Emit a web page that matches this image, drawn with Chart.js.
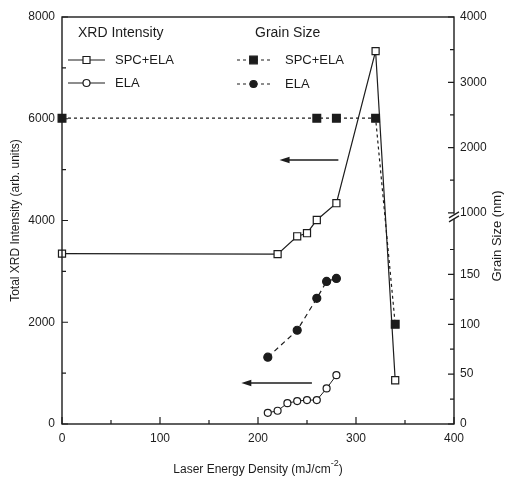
<!DOCTYPE html>
<html>
<head>
<meta charset="utf-8">
<script src="https://cdn.jsdelivr.net/npm/chart.js@4.4.1/dist/chart.umd.min.js"></script>
<style>
  html, body { margin: 0; padding: 0; background: #fff; }
  canvas { display: block; }
</style>
</head>
<body>
<canvas id="chart" width="505" height="480"></canvas>
<script>
// XRD intensity (left axis, arb. units)
const energyXrdSpc = [0, 220, 240, 250, 260, 280, 320, 340];
const xrdSpc = [3350, 3340, 3690, 3750, 4010, 4340, 7330, 860];
const energyXrdEla = [210, 220, 230, 240, 250, 260, 270, 280];
const xrdEla = [220, 260, 410, 450, 470, 470, 700, 960];

// grain size (right axis, nm)
const energyGrainSpc = [0, 260, 280, 320, 340];
const grainSpc = [2450, 2450, 2450, 2450, 100];
const energyGrainEla = [210, 240, 260, 270, 280];
const grainEla = [67, 94, 126, 143, 146];

// tick labels
const xTickValues = [0, 100, 200, 300, 400];
const leftTickValues = [0, 2000, 4000, 6000, 8000];
const rightTickLabels = [0, 50, 100, 150, 1000, 2000, 3000, 4000];
const rightMinorTicks = [25, 75, 125, 175, 1500, 2500, 3500];

const INK = "#1c1c1c";
const FONT = "'Liberation Sans', Arial, sans-serif";

// the right axis is broken: 0-200 nm below, 1000-4000 nm above
function grainToAxis(g) {
  if (g <= 300) return g * 19.6;
  return 4150 + (g - 1000) * (8000 - 4150) / 3000;
}

function toPoints(xs, ys, conv) {
  return xs.map((x, i) => ({ x: x, y: conv ? conv(ys[i]) : ys[i] }));
}

function drawArrow(ctx, xHead, xTail, y) {
  ctx.beginPath();
  ctx.lineWidth = 1.6;
  ctx.moveTo(xHead + 6, y);
  ctx.lineTo(xTail, y);
  ctx.stroke();
  ctx.beginPath();
  ctx.moveTo(xHead, y);
  ctx.lineTo(xHead + 10, y - 3.2);
  ctx.lineTo(xHead + 10, y + 3.2);
  ctx.closePath();
  ctx.fill();
}

function legendRow(ctx, x1, x2, y, dash, shape, filled, label, textX) {
  ctx.save();
  ctx.lineWidth = 1.2;
  ctx.setLineDash(dash);
  ctx.beginPath();
  ctx.moveTo(x1, y);
  ctx.lineTo(x2, y);
  ctx.stroke();
  ctx.setLineDash([]);
  const mx = (x1 + x2) / 2;
  ctx.beginPath();
  if (shape === "rect") {
    const s = filled ? 3.8 : 3.5;
    ctx.rect(mx - s, y - s, 2 * s, 2 * s);
  } else {
    ctx.arc(mx, y, 3.5, 0, Math.PI * 2);
  }
  ctx.fillStyle = filled ? INK : "#fff";
  ctx.fill();
  ctx.stroke();
  ctx.fillStyle = INK;
  ctx.font = "13px " + FONT;
  ctx.textAlign = "left";
  ctx.textBaseline = "middle";
  ctx.fillText(label, textX, y);
  ctx.restore();
}

const decorations = {
  id: "decorations",
  afterDraw(chart) {
    const ctx = chart.ctx;
    const a = chart.chartArea;
    const xs = chart.scales.x;
    const ys = chart.scales.y;
    ctx.save();
    ctx.strokeStyle = INK;
    ctx.fillStyle = INK;

    // frame
    ctx.lineWidth = 1.4;
    ctx.strokeRect(a.left, a.top, a.right - a.left, a.bottom - a.top);

    // inward tick marks
    ctx.lineWidth = 1.2;
    ctx.beginPath();
    for (let v = 0; v <= 400; v += 50) {
      const px = xs.getPixelForValue(v);
      const len = v % 100 ? 4 : 7;
      ctx.moveTo(px, a.bottom);
      ctx.lineTo(px, a.bottom - len);
    }
    for (let v = 0; v <= 8000; v += 1000) {
      const py = ys.getPixelForValue(v);
      const len = v % 2000 ? 4 : 6;
      ctx.moveTo(a.left, py);
      ctx.lineTo(a.left + len, py);
    }
    rightTickLabels.forEach((g) => {
      const py = ys.getPixelForValue(grainToAxis(g));
      ctx.moveTo(a.right, py);
      ctx.lineTo(a.right - 6, py);
    });
    rightMinorTicks.forEach((g) => {
      const py = ys.getPixelForValue(grainToAxis(g));
      ctx.moveTo(a.right, py);
      ctx.lineTo(a.right - 4, py);
    });
    ctx.stroke();

    // axis break on the right
    const pb = ys.getPixelForValue(grainToAxis(1000)) + 4;
    ctx.fillStyle = "#fff";
    ctx.fillRect(a.right - 2, pb - 3, 4, 5);
    ctx.beginPath();
    ctx.moveTo(a.right - 5, pb + 1);
    ctx.lineTo(a.right + 5, pb - 5);
    ctx.moveTo(a.right - 5, pb + 5);
    ctx.lineTo(a.right + 5, pb - 1);
    ctx.stroke();
    ctx.fillStyle = INK;

    // arrows pointing to the left axis
    drawArrow(ctx, xs.getPixelForValue(222), xs.getPixelForValue(282), ys.getPixelForValue(5190));
    drawArrow(ctx, xs.getPixelForValue(183), xs.getPixelForValue(255), ys.getPixelForValue(805));

    // legend
    ctx.font = "14px " + FONT;
    ctx.textAlign = "left";
    ctx.textBaseline = "middle";
    ctx.fillText("XRD Intensity", 78, 33);
    ctx.fillText("Grain Size", 255, 33);
    legendRow(ctx, 68, 105, 60, [], "rect", false, "SPC+ELA", 115);
    legendRow(ctx, 68, 105, 83, [], "circle", false, "ELA", 115);
    legendRow(ctx, 237, 270, 60, [3, 3], "rect", true, "SPC+ELA", 285);
    legendRow(ctx, 237, 270, 84, [3, 3], "circle", true, "ELA", 285);

    // axis titles
    ctx.font = "12px " + FONT;
    ctx.textAlign = "center";
    ctx.save();
    ctx.translate(16, (a.top + a.bottom) / 2);
    ctx.rotate(-Math.PI / 2);
    ctx.fillText("Total XRD Intensity (arb. units)", 0, 0);
    ctx.restore();

    ctx.save();
    ctx.font = "13px " + FONT;
    ctx.translate(497, 236);
    ctx.rotate(-Math.PI / 2);
    ctx.fillText("Grain Size (nm)", 0, 0);
    ctx.restore();

    const main = "Laser Energy Density (mJ/cm";
    const sup = "-2";
    const close = ")";
    ctx.font = "12px " + FONT;
    const w1 = ctx.measureText(main).width;
    const w3 = ctx.measureText(close).width;
    ctx.font = "9px " + FONT;
    const w2 = ctx.measureText(sup).width;
    let tx = (a.left + a.right) / 2 - (w1 + w2 + w3) / 2;
    ctx.textAlign = "left";
    ctx.font = "12px " + FONT;
    ctx.fillText(main, tx, 470);
    ctx.font = "9px " + FONT;
    ctx.fillText(sup, tx + w1, 464);
    ctx.font = "12px " + FONT;
    ctx.fillText(close, tx + w1 + w2, 470);

    ctx.restore();
  }
};

new Chart(document.getElementById("chart"), {
  type: "line",
  data: {
    datasets: [
      {
        label: "XRD SPC+ELA",
        data: toPoints(energyXrdSpc, xrdSpc),
        yAxisID: "y",
        borderColor: INK,
        borderWidth: 1.2,
        pointStyle: "rect",
        pointRadius: 5,
        pointBackgroundColor: "#fff",
        pointBorderColor: INK,
        pointBorderWidth: 1.2,
        clip: false,
      },
      {
        label: "XRD ELA",
        data: toPoints(energyXrdEla, xrdEla),
        yAxisID: "y",
        borderColor: INK,
        borderWidth: 1,
        pointStyle: "circle",
        pointRadius: 3.5,
        pointBackgroundColor: "#fff",
        pointBorderColor: INK,
        pointBorderWidth: 1.2,
        clip: false,
      },
      {
        label: "Grain SPC+ELA",
        data: toPoints(energyGrainSpc, grainSpc, grainToAxis),
        yAxisID: "y",
        borderColor: INK,
        borderWidth: 1.2,
        borderDash: [3, 3],
        pointStyle: "rect",
        pointRadius: 5.5,
        pointBackgroundColor: INK,
        pointBorderColor: INK,
        clip: false,
      },
      {
        label: "Grain ELA",
        data: toPoints(energyGrainEla, grainEla, grainToAxis),
        yAxisID: "y",
        borderColor: INK,
        borderWidth: 1.2,
        borderDash: [5, 4],
        pointStyle: "circle",
        pointRadius: 4,
        pointBackgroundColor: INK,
        pointBorderColor: INK,
        clip: false,
      },
    ],
  },
  options: {
    responsive: false,
    animation: false,
    events: [],
    layout: { padding: { top: 17, left: 0, right: 0, bottom: 0 } },
    plugins: {
      legend: { display: false },
      tooltip: { enabled: false },
    },
    scales: {
      x: {
        type: "linear",
        position: "bottom",
        min: 0,
        max: 400,
        grid: { display: false, drawTicks: false },
        border: { display: false },
        afterBuildTicks: (s) => { s.ticks = xTickValues.map((v) => ({ value: v })); },
        afterFit: (s) => { s.height = 56; },
        ticks: {
          color: INK,
          padding: 7,
          maxRotation: 0,
          font: { size: 12, family: FONT },
          callback: (value) => String(value),
        },
      },
      y: {
        type: "linear",
        position: "left",
        min: 0,
        max: 8000,
        grid: { display: false, drawTicks: false },
        border: { display: false },
        afterBuildTicks: (s) => { s.ticks = leftTickValues.map((v) => ({ value: v })); },
        afterFit: (s) => { s.width = 62; },
        ticks: {
          color: INK,
          padding: 7,
          font: { size: 12, family: FONT },
          callback: (value) => String(value),
        },
      },
      y2: {
        type: "linear",
        position: "right",
        min: 0,
        max: 8000,
        grid: { display: false, drawTicks: false },
        border: { display: false },
        afterBuildTicks: (s) => {
          s.ticks = rightTickLabels.map((g) => ({ value: grainToAxis(g) }));
        },
        afterFit: (s) => { s.width = 51; },
        ticks: {
          color: INK,
          padding: 6,
          autoSkip: false,
          font: { size: 12, family: FONT },
          callback: (value, index) => String(rightTickLabels[index]),
        },
      },
    },
  },
  plugins: [decorations],
});
</script>
</body>
</html>
